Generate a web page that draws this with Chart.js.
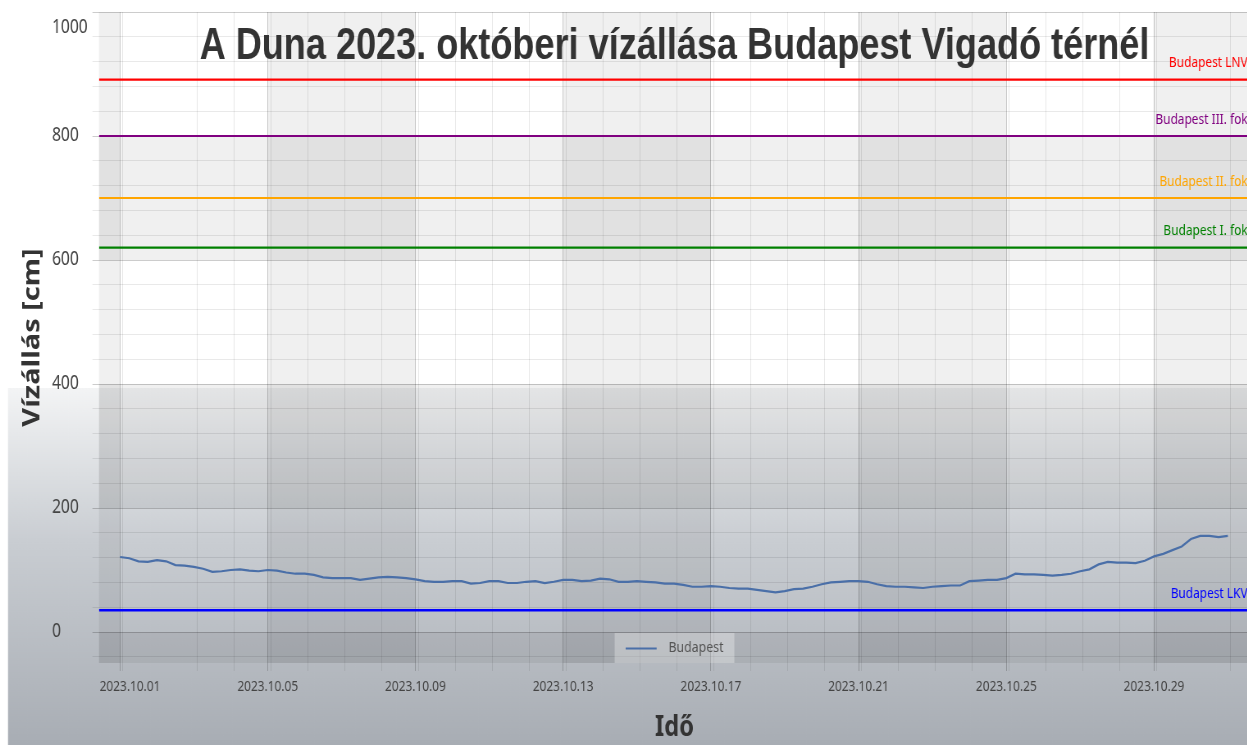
<!DOCTYPE html>
<html>
<head>
<meta charset="utf-8">
<title>A Duna 2023. októberi vízállása Budapest Vigadó térnél</title>
<script src="https://cdn.jsdelivr.net/npm/chart.js@4.4.0/dist/chart.umd.min.js"></script>
<style>
  html, body { margin: 0; padding: 0; overflow: hidden; background: #ffffff; width: 1247px; height: 745px; }
  #wrap { position: absolute; left: 0; top: 0; width: 1539px; height: 745px; transform: scaleX(0.82); transform-origin: 0 0; }
  canvas { display: block; }
</style>
</head>
<body>
<div id="wrap"><canvas id="chart" width="1539" height="745"></canvas></div>
<script>
// ---- data ----
const seriesName = 'Budapest';
const firstDayLabel = '2023.10.01 00:00';
const sampleStepDays = 0.25; // one reading every 6 hours
const waterLevelCm = [
  121, 119, 114, 113,   116, 114, 108, 107,   105, 102, 97, 98,    100, 101, 99, 98,
  100, 99, 96, 94,      94, 92, 88, 87,       87, 87, 84, 86,      88, 89, 88, 87,
  85, 82, 81, 81,       82, 82, 78, 79,       82, 82, 79, 79,      81, 82, 79, 81,
  84, 84, 82, 83,       86, 85, 81, 81,       82, 81, 80, 78,      78, 76, 73, 73,
  74, 73, 71, 70,       70, 68, 66, 64,       66, 69, 70, 73,      77, 80, 81, 82,
  82, 81, 77, 74,       73, 73, 72, 71,       73, 74, 75, 75,      82, 83, 84, 84,
  87, 94, 93, 93,       92, 91, 92, 94,       98, 101, 109, 113,   112, 112, 111, 115,
  122, 126, 132, 138,   150, 155, 155, 153,   155
];

const levelNames  = ['Budapest LNV', 'Budapest III. fok', 'Budapest II. fok', 'Budapest I. fok', 'Budapest LKV'];
const levelValues = [891, 800, 700, 620, 35];
const levelColors = ['#ff0000', '#800080', '#ffa500', '#008000', '#0000ff'];

const xTickDays   = [0, 4, 8, 12, 16, 20, 24, 28];
const xTickLabels = ['2023.10.01', '2023.10.05', '2023.10.09', '2023.10.13', '2023.10.17', '2023.10.21', '2023.10.25', '2023.10.29'];
const xMinorDays  = [0, 2, 3, 4, 5, 6, 7, 8, 9, 10, 11, 12, 13, 14, 15, 16, 17, 18, 19, 20, 21, 22, 23, 24, 25, 26, 27, 28, 30];
const yMajorTicks = [0, 200, 400, 600, 800, 1000];
const yMinorStep  = 40;

const titleText  = 'A Duna 2023. októberi vízállása Budapest Vigadó térnél';
const yTitleText = 'Vízállás [cm]';
const xTitleText = 'Idő';

// ---- layout helpers ----
const SX = 0.82;
const xMin = -0.57, xMax = 30.6, yMin = -50, yMax = 1000;
const firstLabelShift = 0.27;   // first date label is pushed inside the plot
const minorOffset = 0.08;
const rowBands = [[600, 800], [200, 400], [yMin, 0]];
const colBands = [[xMin, 0], [4, 8], [12, 16], [20, 24], [28, xMax]];

const yTicks = [];
for (let v = -40; v <= yMax; v += yMinorStep) yTicks.push(v);

const seriesPoints = waterLevelCm.map((v, i) => ({ x: i * sampleStepDays, y: v }));

const datasets = [{
  label: seriesName,
  data: seriesPoints,
  borderColor: '#4a6fa8',
  backgroundColor: '#4a6fa8',
  borderWidth: 2.2,
  pointRadius: 0,
  tension: 0,
  order: 0
}];
levelValues.forEach((v, i) => {
  datasets.push({
    label: levelNames[i],
    data: [{ x: xMin, y: v }, { x: xMax, y: v }],
    borderColor: levelColors[i],
    borderWidth: i === 4 ? 2.6 : 2.2,
    pointRadius: 0,
    order: 1
  });
});

const majorGrid = 'rgba(0,0,0,0.2)';
const minorGrid = 'rgba(0,0,0,0.085)';

const backgroundPlugin = {
  id: 'backgroundBands',
  beforeDraw(chart) {
    const { ctx, width, height, chartArea: a } = chart;
    const xs = chart.scales.x, ys = chart.scales.y;
    ctx.save();
    ctx.fillStyle = '#ffffff';
    ctx.fillRect(0, 0, width, height);
    const g = ctx.createLinearGradient(0, 388, 0, 745);
    g.addColorStop(0, '#f3f4f5');
    g.addColorStop(0.43, '#c9cdd2');
    g.addColorStop(1, '#a8adb4');
    ctx.fillStyle = g;
    ctx.fillRect(8 / SX, 388, width, height - 388);
    ctx.fillStyle = 'rgba(0,0,0,0.06)';
    rowBands.forEach(([lo, hi]) => {
      const y1 = ys.getPixelForValue(hi), y2 = ys.getPixelForValue(lo);
      ctx.fillRect(a.left, y1, a.right - a.left, y2 - y1);
    });
    colBands.forEach(([lo, hi]) => {
      const x1 = xs.getPixelForValue(lo), x2 = xs.getPixelForValue(hi);
      ctx.fillRect(x1, a.top, x2 - x1, a.bottom - a.top);
    });
    ctx.restore();
  }
};

const labelsPlugin = {
  id: 'levelLabelsAndLegend',
  afterDatasetsDraw(chart) {
    const { ctx, chartArea: a } = chart;
    const ys = chart.scales.y;
    ctx.save();
    ctx.font = '14.5px "Noto Sans"';
    ctx.textAlign = 'right';
    ctx.textBaseline = 'alphabetic';
    levelValues.forEach((v, i) => {
      ctx.fillStyle = levelColors[i];
      ctx.fillText(levelNames[i], a.right - 3, ys.getPixelForValue(v) - 12.5);
    });
    // legend box inside the plot, bottom centre
    const ds = chart.data.datasets[0];
    const bw = 146, bh = 30;
    const bx = (a.left + a.right) / 2 - bw / 2;
    const by = a.bottom - bh;
    ctx.fillStyle = 'rgba(255,255,255,0.3)';
    ctx.fillRect(bx, by, bw, bh);
    ctx.strokeStyle = ds.borderColor;
    ctx.lineWidth = 2.2;
    ctx.beginPath();
    ctx.moveTo(bx + 13.4, by + 15.5);
    ctx.lineTo(bx + 51.2, by + 15.5);
    ctx.stroke();
    ctx.fillStyle = '#555555';
    ctx.font = '15px "Noto Sans"';
    ctx.textAlign = 'left';
    ctx.textBaseline = 'middle';
    ctx.fillText(ds.label, bx + 65.8, by + 15);
    ctx.restore();
  }
};

function gridColor(c) {
  if (!c.tick) return minorGrid;
  if (c.tick.labelOnly) return 'rgba(0,0,0,0)';
  return c.tick.major ? majorGrid : minorGrid;
}

function makeChart() {
  const titleSize = 44, titleLH = 1.2, titlePadTop = 8.5;
  new Chart(document.getElementById('chart'), {
    type: 'line',
    data: { datasets },
    options: {
      responsive: false,
      animation: false,
      devicePixelRatio: 1,
      layout: { padding: { left: 0, top: 12, right: 14.6, bottom: 0 } },
      plugins: {
        legend: { display: false },
        tooltip: { enabled: false },
        title: {
          display: true,
          text: titleText,
          color: '#333333',
          fullSize: false,
          align: 'center',
          font: { family: '"Liberation Sans", Arial, sans-serif', size: titleSize, weight: 'bold', lineHeight: titleLH },
          padding: { top: titlePadTop, bottom: -(titlePadTop + titleSize * titleLH) }
        }
      },
      scales: {
        x: {
          type: 'linear',
          position: 'bottom',
          min: xMin,
          max: xMax,
          afterBuildTicks: (s) => {
            const t = xTickDays.map((d, k) => ({ value: d, major: true, labelIndex: k === 0 ? -1 : k }))
              .concat([{ value: xTickDays[0] + firstLabelShift, major: true, labelOnly: true, labelIndex: 0 }])
              .concat(xMinorDays.map(d => ({ value: d + minorOffset, major: false, labelIndex: -1 })));
            t.sort((p, q) => p.value - q.value);
            s.ticks = t;
          },
          afterFit: (s) => { s.height = 82; s.paddingLeft = 0; s.paddingRight = 0; },
          ticks: {
            autoSkip: false,
            maxRotation: 0,
            minRotation: 0,
            padding: 7.6,
            color: '#444444',
            font: { family: '"Noto Sans"', size: 14.5 },
            callback: (v, i, t) => {
              const k = t[i].labelIndex;
              return k >= 0 ? xTickLabels[k] : '';
            }
          },
          grid: {
            color: gridColor,
            tickLength: 8,
            lineWidth: 1
          },
          border: { display: false },
          title: {
            display: true,
            text: xTitleText,
            color: '#333333',
            font: { family: '"Noto Sans"', size: 29, weight: 'bold' },
            padding: { top: 0, bottom: 0 }
          }
        },
        y: {
          type: 'linear',
          position: 'left',
          weight: 0,
          min: yMin,
          max: yMax,
          afterBuildTicks: (s) => {
            s.ticks = yTicks.map(v => ({ value: v, major: yMajorTicks.includes(v) }));
          },
          afterFit: (s) => { s.width = 57.3; s.paddingTop = 0; s.paddingBottom = 0; },
          ticks: {
            crossAlign: 'far',
            autoSkip: false,
            color: '#444444',
            font: { family: '"Noto Sans"', size: 19, lineHeight: 1.68 },
            callback: (v, i, t) => {
              if (!t[i].major) return '';
              return v === yMax ? ['', String(v)] : String(v);
            }
          },
          grid: {
            color: gridColor,
            tickLength: 8,
            lineWidth: 1
          },
          border: { display: false }
        },
        yTitle: {
          type: 'linear',
          position: 'left',
          weight: 1,
          display: true,
          afterFit: (s) => { s.width = 63.4; s.paddingTop = 0; s.paddingBottom = 0; },
          grid: { display: false, drawTicks: false },
          ticks: { display: false },
          border: { display: false },
          title: {
            display: true,
            text: yTitleText,
            color: '#333333',
            font: { family: '"Noto Sans"', size: 29, weight: 'bold' },
            padding: { top: 22.8, bottom: 0 }
          }
        }
      }
    },
    plugins: [backgroundPlugin, labelsPlugin]
  });
}

Promise.all([
  document.fonts.load('14px "Noto Sans"'),
  document.fonts.load('bold 29px "Noto Sans"'),
  document.fonts.load('bold 44px "Liberation Sans"')
]).then(makeChart, makeChart);
</script>
</body>
</html>
